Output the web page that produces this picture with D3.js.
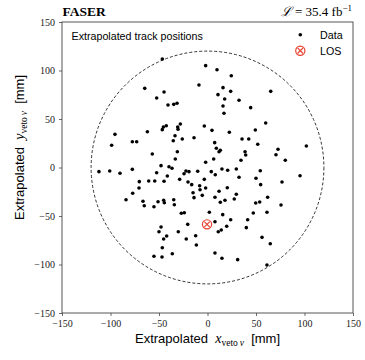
<!DOCTYPE html>
<html>
<head>
<meta charset="utf-8">
<script src="https://cdn.jsdelivr.net/npm/d3@7"></script>
<style>
  html, body { margin: 0; padding: 0; background: #fff; }
  svg { display: block; }
  .tick text { font-family: "Liberation Serif", "DejaVu Serif", serif; font-size: 10px; fill: #222; }
</style>
</head>
<body>
<svg id="chart" width="365" height="360"></svg>
<script>
// extrapolated track positions at the veto station [mm]
const tracks = [
  [-46.6,111.9],[-1.9,105],[-8.8,85],[-64.7,81.6],[-44.8,77.8],[-52.4,71.6],[-40.7,64.4],[-34.8,65.1],
  [-31.4,66.2],[-3.3,42.8],[-28,44.8],[-42.5,43.1],[-45.5,41.8],[-46.6,39],[-30.7,41.8],[-30.4,39.4],
  [-95.4,34.2],[-62,36.9],[-33.5,32.8],[-35.3,27.6],[-26,29.4],[-13.9,30.7],[-98.8,22.9],[-77.5,26.6],
  [-73,26.6],[-31.1,16.3],[-56.9,13.9],[-33.2,8.8],[-1.9,5.4],[-47.9,1.9],[-39.7,0.8],
  [9.8,100.8],[24.5,94.6],[16,82.3],[23.9,78.5],[10.8,75.1],[17.7,70.6],[32.5,69.3],[65.2,78.5],
  [16,63.4],[44.5,61.7],[17,55.9],[60,45.9],[4.6,38.3],[22.5,36.3],[49.3,38.7],[35.6,29.4],
  [42.5,29.4],[7.4,25.6],[51.8,23.9],[101.9,22.2],[9.1,19.8],[13.2,17.7],[11.9,16.3],[38.7,16.3],
  [39.4,12.9],[72.7,18.8],[70.6,13.2],[6.4,8.8],[34.5,7.4],[80.2,7.4],
  [-111.9,-4.3],[-100.8,-3.6],[-90.2,-6],[-77.5,-1.9],[-52.4,-5.4],[-36.6,-0.8],[-24.2,-6.4],[-22.2,-3.6],
  [-19.1,-4.3],[-10.1,-3.9],[-70.3,-14.6],[-60.6,-13.9],[-54.4,-13.9],[-44.8,-14.2],[-41.4,-8.8],[-28.7,-12.2],
  [-20.1,-14.9],[-16.3,-17.7],[-8.1,-18.8],[-1.9,-21.1],[-7.7,-22.9],[-14.9,-26],[-13.9,-31.1],[-5.4,-28.7],
  [-77.1,-26.6],[-70.6,-21.1],[-84,-33.2],[-66.5,-34.8],[-65.2,-39.4],[-55.2,-40.4],[-51,-35.3],[-45.2,-33.8],
  [-44.5,-36.3],[-34.8,-33.2],[-34.2,-38.4],[-27,-47.2],[-23.9,-46.6],[-20.4,-58.6],[-47.9,-61.3],[-50,-66.2],
  [-30.1,-66.2],[-42.1,-70.6],[-45.2,-73.7],[-21.9,-73.7],[-12.2,-70.3],[-46.6,-82.7],[-11.5,-79.9],[-36.3,-88.9],
  [-55.2,-91.5],[-46.9,-92.3],[-3.3,-12.2],
  [3.9,-4.3],[8,-7.4],[14.9,-1.5],[20.8,-2.9],[29.7,-1.5],[32.5,-10.1],[54.4,-3.3],[50,-11.1],
  [54.8,-17.7],[76.8,-14.9],[95.4,-8.5],[11.9,-24.5],[20.4,-20.8],[7.7,-30.7],[13.2,-35.9],[18,-33.8],
  [27.6,-32.5],[29.7,-27.6],[49.7,-36.6],[53.8,-35.6],[62,-30.7],[75.8,-38.7],[1.9,-46.2],[15.7,-48.6],
  [47.2,-46.9],[61.3,-46.2],[23.9,-53.8],[41.4,-53.8],[7.7,-55.9],[19.8,-60.6],[40,-62],[14.2,-64.4],
  [11.1,-66.2],[56.2,-72],[64.7,-78.6],[7.7,-88.1],[14.9,-93.6],[31.1,-95],[61.3,-100.5]
];
const losPoint = [-0.5, -58.6];
const vetoRadius = 120;
const xTicks = [-150, -100, -50, 0, 50, 100, 150];
const yTicks = [-150, -100, -50, 0, 50, 100, 150];
const legendItems = ["Data", "LOS"];

const svg = d3.select("#chart");
const plotL = 62, plotR = 353, plotT = 22, plotB = 313;
const x = d3.scaleLinear().domain([-150, 150]).range([plotL, plotR]);
const y = d3.scaleLinear().domain([-150, 150]).range([plotB, plotT]);
const red = "#e8412f";
const minus = s => s.replace("-", "\u2212");

// axes
const xAxis = svg.append("g").attr("transform", `translate(0,${plotB})`)
  .call(d3.axisBottom(x).tickValues(xTicks).tickSize(3).tickPadding(4).tickFormat(d => minus(String(d))));
const yAxis = svg.append("g").attr("transform", `translate(${plotL},0)`)
  .call(d3.axisLeft(y).tickValues(yTicks).tickSize(3).tickPadding(4).tickFormat(d => minus(String(d))));
[xAxis, yAxis].forEach(g => {
  g.select(".domain").remove();
  g.selectAll(".tick line").attr("stroke", "#444").attr("stroke-width", 0.8);
});

// frame
svg.append("rect").attr("x", plotL).attr("y", plotT).attr("width", plotR - plotL).attr("height", plotB - plotT)
  .attr("fill", "none").attr("stroke", "#444").attr("stroke-width", 0.9);

// veto acceptance circle
svg.append("circle").attr("cx", x(0)).attr("cy", y(0)).attr("r", x(vetoRadius) - x(0))
  .attr("fill", "none").attr("stroke", "#000").attr("stroke-width", 0.8).attr("stroke-dasharray", "3,2");

// track points
svg.append("g").selectAll("circle").data(tracks).join("circle")
  .attr("cx", d => x(d[0])).attr("cy", d => y(d[1])).attr("r", 1.8).attr("fill", "#000");

// LOS marker
function losMarker(g, cx, cy) {
  const r = 4.6, k = r * 0.6;
  g.append("circle").attr("cx", cx).attr("cy", cy).attr("r", r)
    .attr("fill", "none").attr("stroke", red).attr("stroke-width", 1.2);
  g.append("path").attr("d", `M${cx-k},${cy-k}L${cx+k},${cy+k}M${cx-k},${cy+k}L${cx+k},${cy-k}`)
    .attr("stroke", red).attr("stroke-width", 1.2);
}
losMarker(svg, x(losPoint[0]), y(losPoint[1]));

// inside label
svg.append("text").attr("x", 71.5).attr("y", 39.5)
  .style("font-family", "Liberation Sans, Arial, sans-serif").style("font-size", "10.7px")
  .text("Extrapolated track positions");

// legend
const leg = svg.append("g").style("font-family", "Liberation Sans, Arial, sans-serif").style("font-size", "10.7px");
leg.append("circle").attr("cx", 300.3).attr("cy", 34.7).attr("r", 1.8).attr("fill", "#000");
losMarker(leg, 300.3, 50.7);
legendItems.forEach((t, i) => {
  leg.append("text").attr("x", 320).attr("y", 38.5 + i * 16).text(t);
});

// header
svg.append("text").attr("x", 62.5).attr("y", 15.8)
  .style("font-family", "Liberation Serif, serif").style("font-weight", "bold").style("font-size", "13.5px")
  .text("FASER");
const lumi = svg.append("text").attr("x", 352).attr("y", 15.8).attr("text-anchor", "end")
  .style("font-family", "Liberation Serif, serif").style("font-size", "13px");
lumi.append("tspan").style("font-style", "italic").text("\u2112");
lumi.append("tspan").text(" = 35.4 fb");
lumi.append("tspan").attr("dy", -5).style("font-size", "9px").text("\u22121");

// axis labels
function axisLabel(g, v) {
  g.style("font-family", "Liberation Sans, Arial, sans-serif").style("font-size", "13px");
  g.append("tspan").text("Extrapolated  ");
  g.append("tspan").style("font-family", "Liberation Serif, serif").style("font-style", "italic").style("font-size", "14px").text(v);
  g.append("tspan").attr("dy", 3).style("font-family", "Liberation Serif, serif").style("font-size", "9.5px").text("veto\u2009");
  g.append("tspan").style("font-family", "Liberation Serif, serif").style("font-style", "italic").style("font-size", "9.5px").text("\u03bd");
  g.append("tspan").attr("dy", -3).text("  [mm]");
}
axisLabel(svg.append("text").attr("x", x(0)).attr("y", 343).attr("text-anchor", "middle").attr("xml:space", "preserve"), "x");
axisLabel(svg.append("text").attr("transform", `translate(24,${y(0) - 20}) rotate(-90)`).attr("text-anchor", "middle").attr("xml:space", "preserve"), "y");
</script>
</body>
</html>
